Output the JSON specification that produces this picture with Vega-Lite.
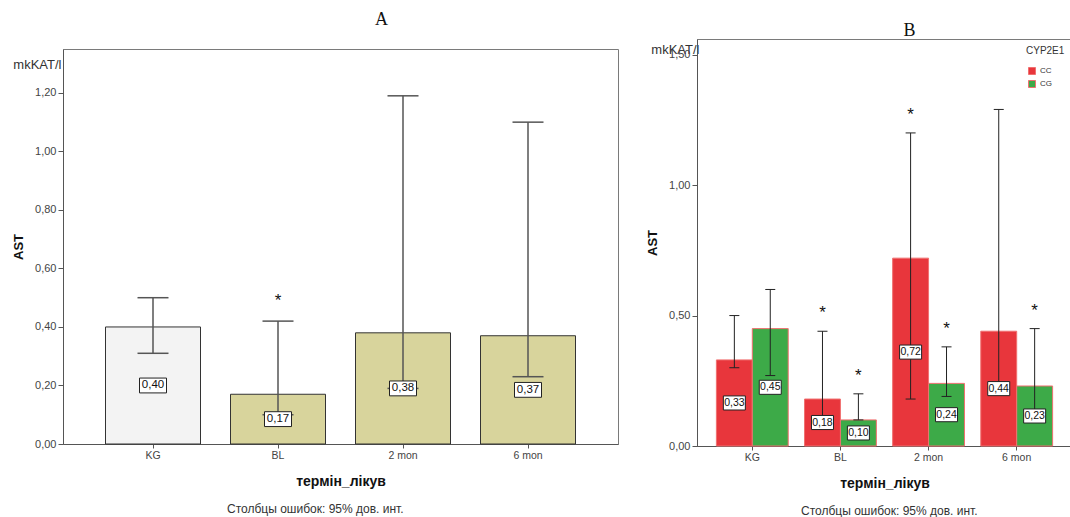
{
  "$schema": "https://vega.github.io/schema/vega-lite/v6.json",
  "padding": {"left": 12, "top": 10, "right": 0, "bottom": 0},
  "background": "white",
  "spacing": 27,
  "resolve": {"scale": {"color": "independent", "x": "independent", "y": "independent", "xOffset": "independent"}},
  "config": {
    "font": "Liberation Sans",
    "locale": {"number": {"decimal": ",", "thousands": " ", "grouping": [3], "currency": ["", ""]}},
    "view": {"stroke": "#7a7a7a", "strokeWidth": 1},
    "axis": {"grid": false, "domainColor": "#555", "tickColor": "#555", "labelColor": "#444", "labelFontSize": 10.5, "titleColor": "#111", "labelFont": "Liberation Sans", "titleFont": "Liberation Sans"}
  },
  "hconcat": [
    {
      "title": {"text": "Столбцы ошибок: 95% дов. инт.", "orient": "bottom", "fontSize": 12, "fontWeight": "normal", "color": "#333", "offset": 15, "anchor": "middle"},
      "spacing": 3,
      "data": {"values": [
        {"term": "KG", "mean": 0.40, "lo": 0.31, "hi": 0.50, "sig": ""},
        {"term": "BL", "mean": 0.17, "lo": 0.10, "hi": 0.42, "sig": "*"},
        {"term": "2 mon", "mean": 0.38, "lo": 0.19, "hi": 1.19, "sig": ""},
        {"term": "6 mon", "mean": 0.37, "lo": 0.23, "hi": 1.10, "sig": ""}
      ]},
      "vconcat": [
        {
          "width": 555,
          "height": 1,
          "view": {"stroke": null},
          "title": {"text": "A", "font": "Liberation Serif", "fontSize": 18, "fontWeight": "normal", "color": "#111", "anchor": "middle", "frame": "group", "dx": 41, "offset": 5},
          "mark": {"type": "text", "text": ""},
          "encoding": {}
        },
        {
          "width": 555,
          "height": 395,
          "layer": [
            {
              "layer": [
                {
                  "mark": {"type": "bar", "stroke": "#333", "strokeWidth": 1},
                  "encoding": {
                    "x": {"field": "term", "type": "nominal", "sort": null, "scale": {"domain": ["KG", "BL", "2 mon", "6 mon"], "paddingInner": 0.24, "paddingOuter": 0.34}, "axis": {"title": "термін_лікув", "labelAngle": 0, "titleFontSize": 14, "titleFontWeight": "bold", "titlePadding": 14, "tickSize": 4}},
                    "y": {"field": "mean", "type": "quantitative", "scale": {"domain": [0, 1.35], "nice": false}, "axis": {"title": "AST", "values": [0, 0.2, 0.4, 0.6, 0.8, 1, 1.2], "format": ".2f", "labelFontSize": 11, "titleFontSize": 13, "titleFontWeight": "bold", "tickSize": 5, "titlePadding": 9}},
                    "color": {"field": "term", "type": "nominal", "scale": {"domain": ["KG", "BL", "2 mon", "6 mon"], "range": ["#f3f3f3", "#d8d49c", "#d8d49c", "#d8d49c"]}, "legend": null}
                  }
                },
                {
                  "mark": {"type": "rule", "color": "#555", "strokeWidth": 1.5},
                  "encoding": {
                    "x": {"field": "term", "type": "nominal", "sort": null},
                    "y": {"field": "lo", "type": "quantitative"},
                    "y2": {"field": "hi"}
                  }
                },
                {
                  "mark": {"type": "tick", "color": "#555", "thickness": 1.5, "size": 31, "opacity": 1},
                  "encoding": {
                    "x": {"field": "term", "type": "nominal", "sort": null},
                    "y": {"field": "lo", "type": "quantitative"}
                  }
                },
                {
                  "mark": {"type": "tick", "color": "#555", "thickness": 1.5, "size": 31, "opacity": 1},
                  "encoding": {
                    "x": {"field": "term", "type": "nominal", "sort": null},
                    "y": {"field": "hi", "type": "quantitative"}
                  }
                },
                {
                  "transform": [{"calculate": "datum.mean / 2", "as": "mid"}],
                  "mark": {"type": "point", "shape": "M-1,-0.55H1V0.55H-1Z", "filled": false, "fill": "white", "fillOpacity": 1, "stroke": "#222", "strokeWidth": 1, "size": 729, "opacity": 1},
                  "encoding": {
                    "x": {"field": "term", "type": "nominal", "sort": null},
                    "y": {"field": "mid", "type": "quantitative"}
                  }
                },
                {
                  "transform": [{"calculate": "datum.mean / 2", "as": "mid"}],
                  "mark": {"type": "text", "fontSize": 11.5, "color": "#111"},
                  "encoding": {
                    "x": {"field": "term", "type": "nominal", "sort": null},
                    "y": {"field": "mid", "type": "quantitative"},
                    "text": {"field": "mean", "type": "quantitative", "format": ".2f"}
                  }
                }
              ]
            },
            {
              "mark": {"type": "text", "fontSize": 17, "dy": -20, "color": "#111"},
              "encoding": {
                "x": {"field": "term", "type": "nominal", "sort": null, "axis": {"orient": "top", "title": "mkKAT/l", "labels": false, "ticks": false, "domain": false, "grid": false, "minExtent": 0, "maxExtent": 0, "titleX": -2, "titleY": 19, "titleAlign": "right", "titleAnchor": "start", "titleBaseline": "alphabetic", "titleFontWeight": "normal", "titleFontSize": 13, "titleColor": "#333"}},
                "y": {"field": "hi", "type": "quantitative"},
                "text": {"field": "sig"}
              }
            }
          ],
          "resolve": {"axis": {"x": "independent"}}
        }
      ]
    },
    {
      "title": {"text": "Столбцы ошибок: 95% дов. инт.", "orient": "bottom", "fontSize": 12, "fontWeight": "normal", "color": "#333", "offset": 15, "anchor": "middle", "dx": 30},
      "resolve": {"scale": {"color": "independent"}},
      "vconcat": [
        {
          "width": 375,
          "height": 407,
          "title": {"text": "B", "font": "Liberation Serif", "fontSize": 18, "fontWeight": "normal", "color": "#111", "anchor": "middle", "frame": "group", "dx": 25, "offset": -1},
          "data": {"values": [
            {"term": "KG", "genotype": "CC", "mean": 0.33, "lo": 0.30, "hi": 0.50, "sig": ""},
            {"term": "KG", "genotype": "CG", "mean": 0.45, "lo": 0.27, "hi": 0.60, "sig": ""},
            {"term": "BL", "genotype": "CC", "mean": 0.18, "lo": 0.09, "hi": 0.44, "sig": "*"},
            {"term": "BL", "genotype": "CG", "mean": 0.10, "lo": 0.10, "hi": 0.20, "sig": "*"},
            {"term": "2 mon", "genotype": "CC", "mean": 0.72, "lo": 0.18, "hi": 1.20, "sig": "*"},
            {"term": "2 mon", "genotype": "CG", "mean": 0.24, "lo": 0.19, "hi": 0.38, "sig": "*"},
            {"term": "6 mon", "genotype": "CC", "mean": 0.44, "lo": 0.23, "hi": 1.29, "sig": ""},
            {"term": "6 mon", "genotype": "CG", "mean": 0.23, "lo": 0.11, "hi": 0.45, "sig": "*"}
          ]},
          "layer": [
            {
              "layer": [
                {
                  "mark": {"type": "bar", "stroke": "#f07070", "strokeWidth": 1},
                  "encoding": {
                    "x": {"field": "term", "type": "nominal", "sort": null, "scale": {"domain": ["KG", "BL", "2 mon", "6 mon"], "paddingInner": 0.185, "paddingOuter": 0.22}, "axis": {"title": "термін_лікув", "labelAngle": 0, "titleFontSize": 14, "titleFontWeight": "bold", "titlePadding": 14, "tickSize": 4}},
                    "xOffset": {"field": "genotype", "type": "nominal", "scale": {"domain": ["CC", "CG"], "paddingInner": 0, "paddingOuter": 0}},
                    "y": {"field": "mean", "type": "quantitative", "scale": {"domain": [0, 1.56], "nice": false}, "axis": {"title": "AST", "values": [0, 0.5, 1, 1.5], "format": ".2f", "labelFontSize": 11, "titleFontSize": 13, "titleFontWeight": "bold", "tickSize": 5, "titlePadding": 9}},
                    "color": {"field": "genotype", "type": "nominal", "scale": {"domain": ["CC", "CG"], "range": ["#e8363c", "#3daa48"]}, "legend": {"title": "CYP2E1", "orient": "top-right", "offset": 7, "padding": 0, "titleFontSize": 10, "titleFontWeight": "normal", "titleColor": "#333", "labelFontSize": 8, "labelColor": "#333", "symbolType": "square", "symbolSize": 49, "symbolStrokeWidth": 1, "symbolOffset": 2, "titlePadding": 11, "rowPadding": 1}}
                  }
                },
                {
                  "mark": {"type": "rule", "color": "#222", "strokeWidth": 1},
                  "encoding": {
                    "x": {"field": "term", "type": "nominal", "sort": null},
                    "xOffset": {"field": "genotype", "type": "nominal"},
                    "y": {"field": "lo", "type": "quantitative"},
                    "y2": {"field": "hi"}
                  }
                },
                {
                  "mark": {"type": "tick", "color": "#222", "thickness": 1, "size": 10, "opacity": 1},
                  "encoding": {
                    "x": {"field": "term", "type": "nominal", "sort": null},
                    "xOffset": {"field": "genotype", "type": "nominal"},
                    "y": {"field": "lo", "type": "quantitative"}
                  }
                },
                {
                  "mark": {"type": "tick", "color": "#222", "thickness": 1, "size": 10, "opacity": 1},
                  "encoding": {
                    "x": {"field": "term", "type": "nominal", "sort": null},
                    "xOffset": {"field": "genotype", "type": "nominal"},
                    "y": {"field": "hi", "type": "quantitative"}
                  }
                },
                {
                  "transform": [{"calculate": "datum.mean / 2", "as": "mid"}],
                  "mark": {"type": "point", "shape": "M-1,-0.64H1V0.64H-1Z", "filled": false, "fill": "white", "fillOpacity": 1, "stroke": "#222", "strokeWidth": 1, "size": 484, "opacity": 1},
                  "encoding": {
                    "x": {"field": "term", "type": "nominal", "sort": null},
                    "xOffset": {"field": "genotype", "type": "nominal"},
                    "y": {"field": "mid", "type": "quantitative"}
                  }
                },
                {
                  "transform": [{"calculate": "datum.mean / 2", "as": "mid"}],
                  "mark": {"type": "text", "fontSize": 10.5, "color": "#111"},
                  "encoding": {
                    "x": {"field": "term", "type": "nominal", "sort": null},
                    "xOffset": {"field": "genotype", "type": "nominal"},
                    "y": {"field": "mid", "type": "quantitative"},
                    "text": {"field": "mean", "type": "quantitative", "format": ".2f"}
                  }
                }
              ]
            },
            {
              "mark": {"type": "text", "fontSize": 17, "dy": -18, "color": "#111"},
              "encoding": {
                "x": {"field": "term", "type": "nominal", "sort": null, "axis": {"orient": "top", "title": "mkKAT/l", "labels": false, "ticks": false, "domain": false, "grid": false, "minExtent": 0, "maxExtent": 0, "titleX": 2, "titleY": 14, "titleAlign": "right", "titleAnchor": "start", "titleBaseline": "alphabetic", "titleFontWeight": "normal", "titleFontSize": 13, "titleColor": "#333"}},
                "xOffset": {"field": "genotype", "type": "nominal"},
                "y": {"field": "hi", "type": "quantitative"},
                "text": {"field": "sig"}
              }
            }
          ],
          "resolve": {"axis": {"x": "independent"}}
        }
      ]
    }
  ]
}
